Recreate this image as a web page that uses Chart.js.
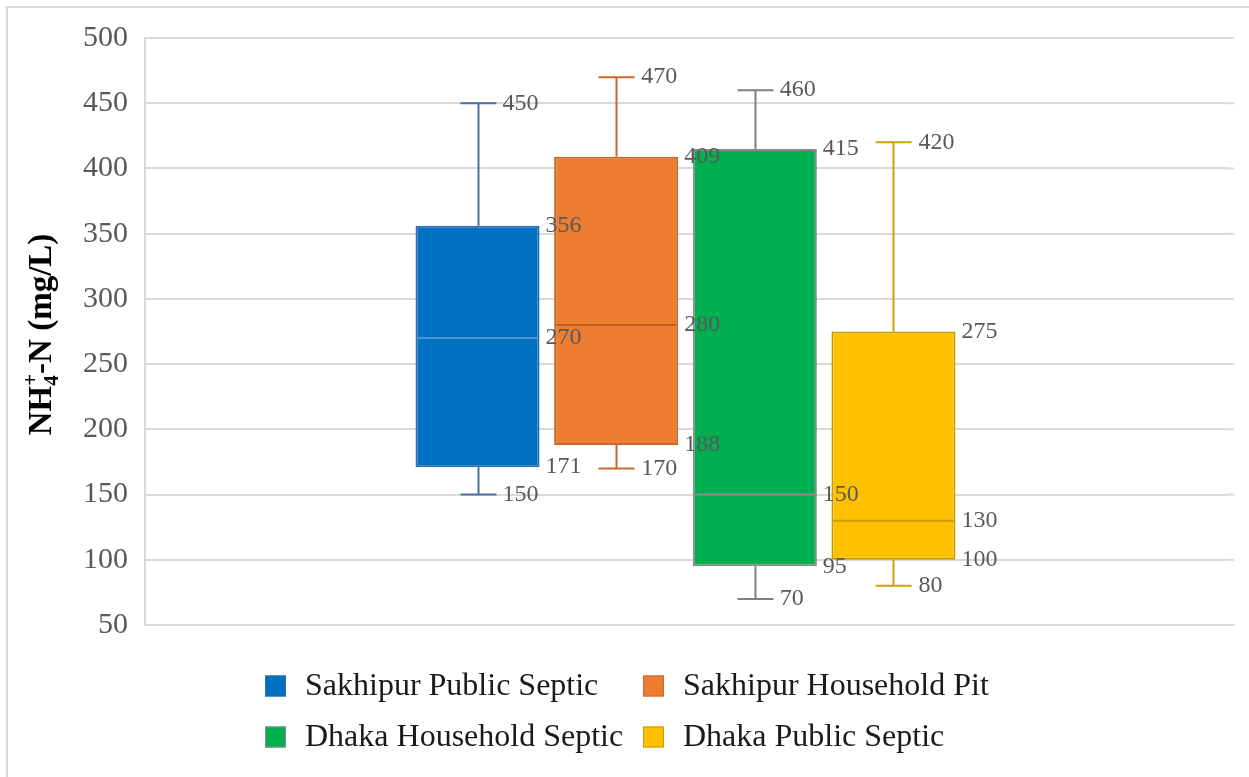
<!DOCTYPE html>
<html>
<head>
<meta charset="utf-8">
<script src="https://cdn.jsdelivr.net/npm/chart.js@4"></script>
<style>
  html, body { margin: 0; padding: 0; background: #ffffff; }
  #wrap { width: 1249px; height: 777px; position: relative; }
</style>
</head>
<body>
<div id="wrap"><canvas id="box" width="1249" height="777"></canvas></div>
<script>
// NH4+-N concentrations (mg/L) by sampling group: five-number summaries
const groups  = ['Sakhipur Public Septic', 'Sakhipur Household Pit', 'Dhaka Household Septic', 'Dhaka Public Septic'];
const minimum = [150, 170, 70, 80];
const lowerQ  = [171, 188, 95, 100];
const median  = [270, 280, 150, 130];
const upperQ  = [356, 409, 415, 275];
const maximum = [450, 470, 460, 420];
const yTicks  = [50, 100, 150, 200, 250, 300, 350, 400, 450, 500];

// Styling per group
const fillColors    = ['#0070C0', '#ED7D31', '#00B050', '#FFC000'];
const edgeColors    = ['#2E6DAE', '#C9682A', '#8A8A8A', '#C99A00'];
const whiskerColors = ['#4A72A6', '#D0672A', '#7F7F7F', '#CDA200'];
const medianColors  = ['#4D93D6', '#C25E25', '#8C8C8C', '#C99A00'];

const SERIF = '"Liberation Serif", "Times New Roman", serif';
const LABEL_COLOR = '#595959';
const GRID_COLOR = '#D9D9D9';
const GRID_RUNOUT = 8; // gridlines continue a little past the plotting area

// Whiskers, medians, caps and value labels for every box
const boxExtras = {
  id: 'boxExtras',
  beforeDatasetsDraw(chart) {
    const { ctx, chartArea } = chart;
    const y = chart.scales.y;
    ctx.save();
    ctx.strokeStyle = GRID_COLOR;
    ctx.lineWidth = 2;
    ctx.beginPath();
    yTicks.forEach(v => {
      const py = y.getPixelForValue(v);
      ctx.moveTo(chartArea.right - 1, py);
      ctx.lineTo(chartArea.right + GRID_RUNOUT, py);
    });
    ctx.stroke();
    ctx.restore();
  },
  afterDatasetsDraw(chart) {
    const { ctx } = chart;
    const y = chart.scales.y;
    const capHalf = 18;
    // lines first
    groups.forEach((g, i) => {
      const bar = chart.getDatasetMeta(i).data[0];
      const cx = Math.round(bar.x) + 0.5;
      const half = bar.width / 2;
      ctx.save();
      ctx.lineWidth = 2;
      ctx.strokeStyle = whiskerColors[i];
      ctx.beginPath();
      ctx.moveTo(cx, y.getPixelForValue(upperQ[i]));
      ctx.lineTo(cx, y.getPixelForValue(maximum[i]));
      ctx.moveTo(cx - capHalf, y.getPixelForValue(maximum[i]));
      ctx.lineTo(cx + capHalf, y.getPixelForValue(maximum[i]));
      ctx.moveTo(cx, y.getPixelForValue(lowerQ[i]));
      ctx.lineTo(cx, y.getPixelForValue(minimum[i]));
      ctx.moveTo(cx - capHalf, y.getPixelForValue(minimum[i]));
      ctx.lineTo(cx + capHalf, y.getPixelForValue(minimum[i]));
      ctx.stroke();
      ctx.strokeStyle = medianColors[i];
      ctx.beginPath();
      const my = y.getPixelForValue(median[i]);
      ctx.moveTo(bar.x - half + 2, my);
      ctx.lineTo(bar.x + half - 2, my);
      ctx.stroke();
      ctx.restore();
    });
    // then labels on top of everything
    ctx.save();
    ctx.font = '24px ' + SERIF;
    ctx.fillStyle = LABEL_COLOR;
    ctx.textAlign = 'left';
    ctx.textBaseline = 'middle';
    groups.forEach((g, i) => {
      const bar = chart.getDatasetMeta(i).data[0];
      const whiskerX = bar.x + capHalf + 7;
      const boxX = bar.x + bar.width / 2 + 6;
      ctx.fillText(String(maximum[i]), whiskerX, y.getPixelForValue(maximum[i]));
      ctx.fillText(String(minimum[i]), whiskerX, y.getPixelForValue(minimum[i]));
      ctx.fillText(String(upperQ[i]), boxX, y.getPixelForValue(upperQ[i]));
      ctx.fillText(String(median[i]), boxX, y.getPixelForValue(median[i]));
      ctx.fillText(String(lowerQ[i]), boxX, y.getPixelForValue(lowerQ[i]));
    });
    ctx.restore();
  }
};

// Frame, rotated axis title with sub/superscript, and two-column legend
const decorations = {
  id: 'decorations',
  beforeDraw(chart) {
    const { ctx } = chart;
    ctx.save();
    ctx.fillStyle = '#ffffff';
    ctx.fillRect(0, 0, chart.width, chart.height);
    ctx.strokeStyle = GRID_COLOR;
    ctx.lineWidth = 2;
    ctx.beginPath();
    ctx.moveTo(7, chart.height);
    ctx.lineTo(7, 7);
    ctx.lineTo(chart.width, 7);
    ctx.stroke();
    ctx.restore();
  },
  afterDraw(chart) {
    const { ctx, chartArea } = chart;
    // axis title
    ctx.save();
    const midY = (chartArea.top + chartArea.bottom) / 2 + 3;
    ctx.translate(51, midY);
    ctx.rotate(-Math.PI / 2);
    ctx.fillStyle = '#000000';
    ctx.textBaseline = 'alphabetic';
    const big = 'bold 33px ' + SERIF;
    const small = 'bold 21px ' + SERIF;
    ctx.font = big;
    const wNH = ctx.measureText('NH').width;
    const wRest = ctx.measureText('-N (mg/L)').width;
    ctx.font = small;
    const wSub = Math.max(ctx.measureText('4').width, ctx.measureText('+').width);
    const total = wNH + wSub + wRest;
    let x = -total / 2;
    ctx.font = big;
    ctx.fillText('NH', x, 0);
    x += wNH;
    ctx.font = small;
    ctx.fillText('4', x, 7);
    ctx.fillText('+', x, -14);
    x += wSub;
    ctx.font = big;
    ctx.fillText('-N (mg/L)', x, 0);
    ctx.restore();

    // legend
    ctx.save();
    ctx.font = '32px ' + SERIF;
    ctx.textBaseline = 'middle';
    ctx.textAlign = 'left';
    const colX = [265, 643];
    const rowY = [686, 737];
    const sq = 21;
    groups.forEach((g, i) => {
      const cx = colX[i % 2];
      const cy = rowY[Math.floor(i / 2)];
      ctx.fillStyle = fillColors[i];
      ctx.fillRect(cx, cy - sq / 2, sq, sq);
      ctx.strokeStyle = edgeColors[i];
      ctx.lineWidth = 1;
      ctx.strokeRect(cx + 0.5, cy - sq / 2 + 0.5, sq - 1, sq - 1);
      ctx.fillStyle = '#1a1a1a';
      ctx.fillText(g, cx + 40, cy + 1);
    });
    ctx.restore();
  }
};

new Chart(document.getElementById('box'), {
  type: 'bar',
  data: {
    labels: [''],
    datasets: groups.map((g, i) => ({
      label: g,
      data: [[lowerQ[i], upperQ[i]]],
      backgroundColor: fillColors[i],
      borderColor: edgeColors[i],
      borderWidth: 2,
      borderSkipped: false,
      categoryPercentage: 0.513,
      barPercentage: 0.895
    }))
  },
  options: {
    responsive: false,
    animation: false,
    layout: { padding: { top: 38, right: 15 + GRID_RUNOUT, bottom: 152, left: 0 } },
    plugins: {
      legend: { display: false },
      tooltip: { enabled: false }
    },
    scales: {
      x: { display: false },
      y: {
        min: yTicks[0],
        max: yTicks[yTicks.length - 1],
        afterBuildTicks(scale) { scale.ticks = yTicks.map(v => ({ value: v })); },
        afterFit(scale) { scale.width = 145; },
        ticks: {
          font: { family: SERIF, size: 30 },
          color: LABEL_COLOR,
          padding: 17
        },
        grid: { color: GRID_COLOR, lineWidth: 2, drawTicks: false },
        border: { color: GRID_COLOR, width: 2 }
      }
    }
  },
  plugins: [decorations, boxExtras]
});
</script>
</body>
</html>
